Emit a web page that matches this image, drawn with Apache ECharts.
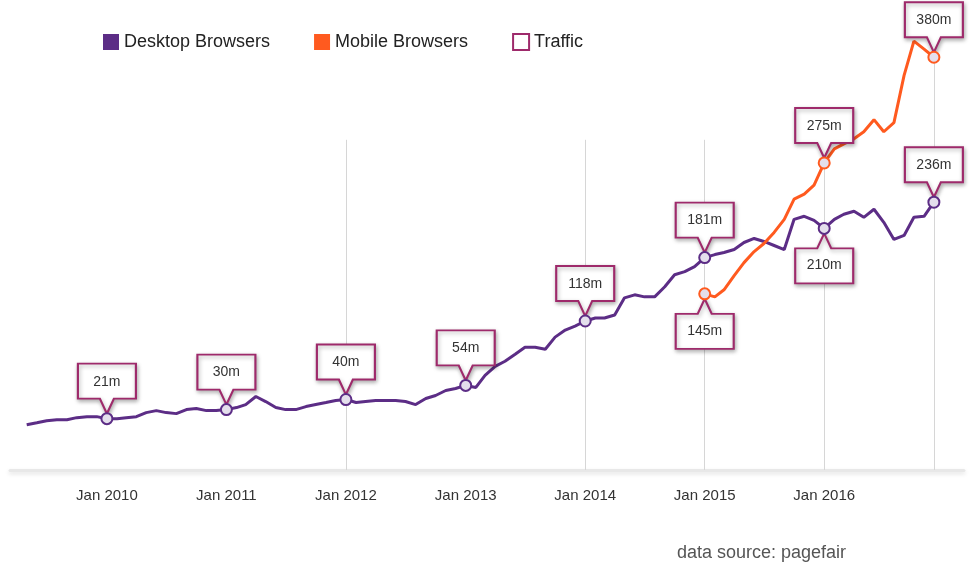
<!DOCTYPE html>
<html>
<head>
<meta charset="utf-8">
<script src="https://cdn.jsdelivr.net/npm/echarts@6/dist/echarts.min.js"></script>
<style>
html, body { margin: 0; padding: 0; background: #fff; }
#chart { width: 976px; height: 562px; }
</style>
</head>
<body>
<div id="chart"></div>
<script>
// adblock users in millions, one value per month
var desktopStart = [2009, 5];
var desktopUsers = [
	15, 17, 19, 20, 20, 22, 23, 23,
	21, 21, 22, 23, 27, 29, 27, 26, 30, 31, 29, 29,
	30, 32, 35, 43, 38, 32, 30, 30, 33, 35, 37, 39,
	40, 37, 38, 39, 39, 39, 38, 35, 41, 44, 49, 51,
	54, 52, 64, 73, 78, 85, 92, 92, 90, 102, 109, 113,
	118, 121, 121, 124, 141, 144, 142, 142, 152, 164, 167, 172,
	181, 184, 186, 189, 196, 200, 197, 193, 189, 219, 222, 218,
	210, 219, 224, 227, 221, 229, 216, 199, 203, 221, 222, 236
];
var mobileStart = [2015, 1];
var mobileUsers = [
	145, 142, 149, 163, 176, 187, 195, 206, 219, 239, 244, 253,
	275, 289, 294, 299, 306, 318, 306, 315, 362, 396, 388, 380
];
// months that get a traffic callout, and which of them hang below the line
var desktopCallouts = ['2010-01', '2011-01', '2012-01', '2013-01', '2014-01', '2015-01', '2016-01', '2016-12'];
var desktopBelow = ['2016-01'];
var mobileCallouts = ['2015-01', '2016-01', '2016-12'];
var mobileBelow = ['2015-01'];
// grey guide lines: month and how high they reach
var guideMonths = ['2012-01', '2014-01', '2015-01', '2016-01', '2016-12'];
var guideTops = [298, 298, 298, 298, 417];
var tickYears = [2010, 2011, 2012, 2013, 2014, 2015, 2016];

var desktopColor = '#5c2d86';
var mobileColor = '#ff5a1f';
var trafficColor = '#9e2a6b';
var font = 'Liberation Sans, Arial, sans-serif';

function ts(s) {
	var p = s.split('-');
	return new Date(+p[0], +p[1] - 1, 1).getTime();
}
function monthSeries(start, values) {
	return values.map(function(v, i) {
		return [new Date(start[0], start[1] - 1 + i, 1).getTime(), v];
	});
}
function valueAt(data, m) {
	var t = ts(m);
	for (var i = 0; i < data.length; i++) {
		if (data[i][0] === t) return data[i][1];
	}
	return null;
}

var boxUp = 'path://M0,0 H58 V35 H36 L29,50 L22,35 H0 Z';
var boxDown = 'path://M0,15 H22 L29,0 L36,15 H58 V50 H0 Z';

function callouts(data, months, below, color) {
	var items = [];
	months.forEach(function(m) {
		var c = [ts(m), valueAt(data, m)];
		var dn = below.indexOf(m) >= 0;
		items.push({
			coord: c, value: c[1], symbol: dn ? boxDown : boxUp,
			symbolSize: [58, 50], symbolOffset: [0, dn ? 30 : -30],
			itemStyle: {
				color: '#fff', borderColor: trafficColor, borderWidth: 2,
				shadowBlur: 4, shadowColor: 'rgba(0,0,0,0.3)', shadowOffsetX: 1, shadowOffsetY: 2
			},
			label: {
				show: true, offset: [0, dn ? 7 : -7], formatter: '{c}m',
				color: '#333', fontSize: 14, fontFamily: font
			}
		});
		items.push({
			coord: c, symbol: 'circle', symbolSize: 11,
			itemStyle: { color: '#e4dfec', borderColor: color, borderWidth: 2 },
			label: { show: false }
		});
	});
	return items;
}

var desktopData = monthSeries(desktopStart, desktopUsers);
var mobileData = monthSeries(mobileStart, mobileUsers);

var guides = guideMonths.map(function(m, i) {
	return [{ coord: [ts(m), -30] }, { coord: [ts(m), guideTops[i]] }];
});

var myChart = echarts.init(document.getElementById('chart'));
var option = {
	animation: false,
	title: {
		text: 'data source: pagefair',
		left: 672, top: 539,
		textStyle: { fontSize: 18, fontWeight: 'normal', color: '#555', fontFamily: font }
	},
	legend: {
		left: 98, top: 28,
		itemWidth: 16, itemHeight: 16, itemGap: 44,
		textStyle: { fontSize: 18, color: '#222', fontFamily: font, width: 152 },
		data: [
			{ name: 'Desktop Browsers', icon: 'rect' },
			{ name: 'Mobile Browsers', icon: 'rect' },
			{ name: 'Traffic', icon: 'rect', itemStyle: { color: '#fff', borderColor: trafficColor, borderWidth: 2 } }
		]
	},
	grid: { left: 10, right: 12, top: 20, bottom: 92 },
	xAxis: {
		type: 'value',
		min: new Date(2009, 2, 11).getTime(),
		max: new Date(2017, 2, 3).getTime(),
		axisLine: {
			onZero: false,
			lineStyle: { color: '#e8e8e8', width: 3, shadowBlur: 4, shadowColor: 'rgba(0,0,0,0.12)', shadowOffsetY: 2 }
		},
		axisTick: { show: false },
		splitLine: { show: false },
		axisLabel: {
			customValues: tickYears.map(function(y) { return new Date(y, 0, 1).getTime(); }),
			formatter: function(v) { return 'Jan ' + new Date(v).getFullYear(); },
			margin: 18, fontSize: 15, color: '#333', fontFamily: font
		}
	},
	yAxis: { type: 'value', min: -30, max: 417, show: false, splitLine: { show: false } },
	series: [
		{
			name: 'Desktop Browsers', type: 'line', data: desktopData,
			symbol: 'none', color: desktopColor,
			lineStyle: { width: 3, color: desktopColor },
			markLine: {
				silent: true, symbol: 'none',
				lineStyle: { color: '#d6d6d6', width: 1, type: 'solid' },
				label: { show: false },
				data: guides
			},
			markPoint: { z: 5, data: callouts(desktopData, desktopCallouts, desktopBelow, desktopColor) }
		},
		{
			name: 'Mobile Browsers', type: 'line', data: mobileData,
			symbol: 'none', color: mobileColor,
			lineStyle: { width: 3, color: mobileColor },
			markPoint: { z: 5, data: callouts(mobileData, mobileCallouts, mobileBelow, mobileColor) }
		},
		{ name: 'Traffic', type: 'line', data: [], color: trafficColor }
	]
};
myChart.setOption(option);
</script>
</body>
</html>
